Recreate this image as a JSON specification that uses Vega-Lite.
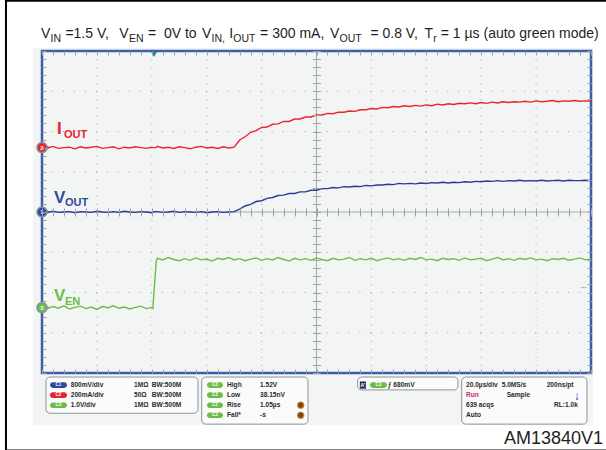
{
  "$schema": "https://vega.github.io/schema/vega-lite/v6.json",
  "width": 549,
  "height": 322,
  "autosize": {"type": "none"},
  "padding": {"left": 42, "top": 51, "right": 15, "bottom": 77},
  "background": "white",
  "config": {"view": {"stroke": null}, "text": {"font": "Liberation Sans"}},
  "resolve": {"axis": {"x": "independent", "y": "independent"}},
  "datasets": {
    "tr": [
      {"t":0,"i":1.62,"v":0.01,"e":-2.36},{"t":0.1,"i":1.59,"v":-0.01,"e":-2.40},{"t":0.2,"i":1.63,"v":0.02,"e":-2.35},
      {"t":0.3,"i":1.58,"v":-0.01,"e":-2.39},{"t":0.4,"i":1.60,"v":0,"e":-2.33},{"t":0.5,"i":1.61,"v":0.01,"e":-2.41},
      {"t":0.6,"i":1.57,"v":-0.02,"e":-2.37},{"t":0.7,"i":1.62,"v":0.01,"e":-2.34},{"t":0.8,"i":1.59,"v":0,"e":-2.40},
      {"t":0.9,"i":1.61,"v":-0.01,"e":-2.36},{"t":1.0,"i":1.63,"v":0.02,"e":-2.42},{"t":1.1,"i":1.58,"v":0,"e":-2.35},
      {"t":1.2,"i":1.60,"v":-0.01,"e":-2.38},{"t":1.3,"i":1.62,"v":0.01,"e":-2.33},{"t":1.4,"i":1.57,"v":-0.01,"e":-2.39},
      {"t":1.5,"i":1.61,"v":0.02,"e":-2.36},{"t":1.6,"i":1.59,"v":0,"e":-2.41},{"t":1.7,"i":1.62,"v":-0.01,"e":-2.37},
      {"t":1.8,"i":1.60,"v":0.01,"e":-2.34},{"t":1.9,"i":1.58,"v":0,"e":-2.40},{"t":2.0,"i":1.61,"v":-0.02,"e":-2.37},
      {"t":2.02,"i":1.60,"v":0,"e":-2.39},{"t":2.08,"i":1.60,"v":0.01,"e":-1.22},
      {"t":2.1,"i":1.63,"v":0.01,"e":-1.15},{"t":2.2,"i":1.59,"v":-0.01,"e":-1.19},{"t":2.3,"i":1.61,"v":0,"e":-1.13},
      {"t":2.4,"i":1.58,"v":0.02,"e":-1.18},{"t":2.5,"i":1.62,"v":-0.01,"e":-1.21},{"t":2.6,"i":1.60,"v":0.01,"e":-1.16},
      {"t":2.7,"i":1.57,"v":0,"e":-1.20},{"t":2.8,"i":1.61,"v":-0.01,"e":-1.14},{"t":2.9,"i":1.63,"v":0.01,"e":-1.19},
      {"t":3.0,"i":1.59,"v":-0.02,"e":-1.17},{"t":3.1,"i":1.61,"v":0,"e":-1.22},{"t":3.2,"i":1.58,"v":0.01,"e":-1.15},
      {"t":3.3,"i":1.62,"v":-0.01,"e":-1.18},{"t":3.4,"i":1.59,"v":0,"e":-1.13},{"t":3.5,"i":1.61,"v":0.01,"e":-1.19},
      {"t":3.6,"i":1.79,"v":0.07,"e":-1.16},{"t":3.7,"i":1.87,"v":0.15,"e":-1.21},{"t":3.8,"i":1.98,"v":0.19,"e":-1.17},
      {"t":3.9,"i":2.02,"v":0.26,"e":-1.14},{"t":4.0,"i":2.10,"v":0.28,"e":-1.20},{"t":4.1,"i":2.11,"v":0.34,"e":-1.16},
      {"t":4.2,"i":2.18,"v":0.36,"e":-1.19},{"t":4.3,"i":2.19,"v":0.41,"e":-1.13},{"t":4.4,"i":2.25,"v":0.42,"e":-1.18},
      {"t":4.5,"i":2.25,"v":0.46,"e":-1.22},{"t":4.6,"i":2.31,"v":0.46,"e":-1.15},{"t":4.7,"i":2.31,"v":0.50,"e":-1.19},
      {"t":4.8,"i":2.36,"v":0.50,"e":-1.16},{"t":4.9,"i":2.36,"v":0.54,"e":-1.20},{"t":5.0,"i":2.41,"v":0.54,"e":-1.14},
      {"t":5.1,"i":2.41,"v":0.58,"e":-1.18},{"t":5.2,"i":2.45,"v":0.58,"e":-1.21},{"t":5.3,"i":2.44,"v":0.61,"e":-1.15},
      {"t":5.4,"i":2.48,"v":0.60,"e":-1.19},{"t":5.5,"i":2.48,"v":0.63,"e":-1.17},{"t":5.6,"i":2.51,"v":0.62,"e":-1.13},
      {"t":5.7,"i":2.50,"v":0.64,"e":-1.20},{"t":5.8,"i":2.54,"v":0.63,"e":-1.16},{"t":5.9,"i":2.54,"v":0.66,"e":-1.19},
      {"t":6.0,"i":2.57,"v":0.65,"e":-1.15},{"t":6.1,"i":2.56,"v":0.67,"e":-1.21},{"t":6.2,"i":2.60,"v":0.67,"e":-1.17},
      {"t":6.3,"i":2.59,"v":0.69,"e":-1.14},{"t":6.4,"i":2.62,"v":0.68,"e":-1.19},{"t":6.5,"i":2.61,"v":0.71,"e":-1.16},
      {"t":6.6,"i":2.64,"v":0.70,"e":-1.20},{"t":6.7,"i":2.62,"v":0.71,"e":-1.15},{"t":6.8,"i":2.65,"v":0.70,"e":-1.18},
      {"t":6.9,"i":2.63,"v":0.72,"e":-1.13},{"t":7.0,"i":2.66,"v":0.71,"e":-1.19},{"t":7.1,"i":2.64,"v":0.73,"e":-1.17},
      {"t":7.2,"i":2.68,"v":0.72,"e":-1.21},{"t":7.3,"i":2.66,"v":0.74,"e":-1.15},{"t":7.4,"i":2.69,"v":0.72,"e":-1.18},
      {"t":7.5,"i":2.67,"v":0.74,"e":-1.16},{"t":7.6,"i":2.70,"v":0.73,"e":-1.20},{"t":7.7,"i":2.69,"v":0.75,"e":-1.14},
      {"t":7.8,"i":2.71,"v":0.74,"e":-1.19},{"t":7.9,"i":2.69,"v":0.76,"e":-1.17},{"t":8.0,"i":2.72,"v":0.75,"e":-1.15},
      {"t":8.1,"i":2.70,"v":0.77,"e":-1.21},{"t":8.2,"i":2.73,"v":0.76,"e":-1.17},{"t":8.3,"i":2.71,"v":0.78,"e":-1.13},
      {"t":8.4,"i":2.74,"v":0.76,"e":-1.19},{"t":8.5,"i":2.72,"v":0.78,"e":-1.16},{"t":8.6,"i":2.74,"v":0.77,"e":-1.20},
      {"t":8.7,"i":2.73,"v":0.79,"e":-1.15},{"t":8.8,"i":2.75,"v":0.77,"e":-1.18},{"t":8.9,"i":2.73,"v":0.78,"e":-1.14},
      {"t":9.0,"i":2.76,"v":0.77,"e":-1.19},{"t":9.1,"i":2.74,"v":0.79,"e":-1.17},{"t":9.2,"i":2.75,"v":0.77,"e":-1.21},
      {"t":9.3,"i":2.77,"v":0.78,"e":-1.16},{"t":9.4,"i":2.74,"v":0.79,"e":-1.18},{"t":9.5,"i":2.76,"v":0.77,"e":-1.15},
      {"t":9.6,"i":2.75,"v":0.79,"e":-1.20},{"t":9.7,"i":2.77,"v":0.78,"e":-1.17},{"t":9.8,"i":2.75,"v":0.78,"e":-1.14},
      {"t":9.9,"i":2.76,"v":0.79,"e":-1.19},{"t":10.0,"i":2.75,"v":0.78,"e":-1.17}
    ]
  },
  "layer": [
    {
      "data": {"values": [{"u": -0.164, "u2": 10.036, "d": 4.075, "d2": -5.3}]},
      "mark": {"type": "rect", "fill": "#f3f5f5"},
      "encoding": {
        "x": {"field": "u", "type": "quantitative", "scale": {"domain": [0, 10], "nice": false, "zero": false}, "axis": null},
        "x2": {"field": "u2"},
        "y": {"field": "d", "type": "quantitative", "scale": {"domain": [-4, 4], "nice": false, "zero": false}, "axis": null},
        "y2": {"field": "d2"}
      }
    },
    {
      "data": {"values": [{"g":1},{"g":2},{"g":3},{"g":4},{"g":6},{"g":7},{"g":8},{"g":9}]},
      "mark": {"type": "rule", "stroke": "#9ea4a6", "strokeWidth": 1, "strokeDash": [1, 7.05]},
      "encoding": {
        "x": {"field": "g", "type": "quantitative", "axis": {"orient": "bottom", "offset": -4, "tickSize": 4, "tickColor": "#9ea4a6", "domain": false, "labels": false, "grid": false, "title": null, "zindex": 1,
          "values": [0,0.2,0.4,0.6,0.8,1,1.2,1.4,1.6,1.8,2,2.2,2.4,2.6,2.8,3,3.2,3.4,3.6,3.8,4,4.2,4.4,4.6,4.8,5,5.2,5.4,5.6,5.8,6,6.2,6.4,6.6,6.8,7,7.2,7.4,7.6,7.8,8,8.2,8.4,8.6,8.8,9,9.2,9.4,9.6,9.8,10]}}
      }
    },
    {
      "data": {"values": [{"g":-3},{"g":-2},{"g":-1},{"g":1},{"g":2},{"g":3}]},
      "mark": {"type": "rule", "stroke": "#9ea4a6", "strokeWidth": 1, "strokeDash": [1, 9.98]},
      "encoding": {
        "y": {"field": "g", "type": "quantitative", "axis": {"orient": "left", "offset": -4, "tickSize": 4, "tickColor": "#9ea4a6", "domain": false, "labels": false, "grid": false, "title": null, "zindex": 1,
          "values": [-4,-3.8,-3.6,-3.4,-3.2,-3,-2.8,-2.6,-2.4,-2.2,-2,-1.8,-1.6,-1.4,-1.2,-1,-0.8,-0.6,-0.4,-0.2,0,0.2,0.4,0.6,0.8,1,1.2,1.4,1.6,1.8,2,2.2,2.4,2.6,2.8,3,3.2,3.4,3.6,3.8,4]}}
      }
    },
    {
      "data": {"values": [{"g": 5}]},
      "mark": {"type": "rule", "stroke": "#a4aaac", "strokeWidth": 1},
      "encoding": {
        "x": {"field": "g", "type": "quantitative", "axis": {"orient": "top", "offset": -4, "tickSize": 4, "tickColor": "#9ea4a6", "domain": false, "labels": false, "grid": false, "title": null, "zindex": 1,
          "values": [0,0.2,0.4,0.6,0.8,1,1.2,1.4,1.6,1.8,2,2.2,2.4,2.6,2.8,3,3.2,3.4,3.6,3.8,4,4.2,4.4,4.6,4.8,5,5.2,5.4,5.6,5.8,6,6.2,6.4,6.6,6.8,7,7.2,7.4,7.6,7.8,8,8.2,8.4,8.6,8.8,9,9.2,9.4,9.6,9.8,10]}}
      }
    },
    {
      "data": {"values": [{"g": 0}]},
      "mark": {"type": "rule", "stroke": "#a4aaac", "strokeWidth": 1},
      "encoding": {
        "y": {"field": "g", "type": "quantitative", "axis": {"orient": "right", "offset": -4, "tickSize": 4, "tickColor": "#9ea4a6", "domain": false, "labels": false, "grid": false, "title": null, "zindex": 1,
          "values": [-4,-3.8,-3.6,-3.4,-3.2,-3,-2.8,-2.6,-2.4,-2.2,-2,-1.8,-1.6,-1.4,-1.2,-1,-0.8,-0.6,-0.4,-0.2,0,0.2,0.4,0.6,0.8,1,1.2,1.4,1.6,1.8,2,2.2,2.4,2.6,2.8,3,3.2,3.4,3.6,3.8,4]}}
      }
    },
    {
      "data": {"values": [{"u": 0, "u2": 10, "d": -4, "d2": 4}]},
      "mark": {"type": "rect", "fillOpacity": 0, "stroke": "#3d5daa", "strokeWidth": 2.5},
      "encoding": {
        "x": {"field": "u", "type": "quantitative", "axis": null}, "x2": {"field": "u2"},
        "y": {"field": "d", "type": "quantitative", "axis": null}, "y2": {"field": "d2"}
      }
    },
    {
      "data": {"name": "tr"},
      "mark": {"type": "line", "color": "#e8262b", "strokeWidth": 1.4},
      "encoding": {
        "x": {"field": "t", "type": "quantitative", "axis": {"orient": "bottom", "offset": -165, "tickSize": 8, "tickColor": "#9ea4a6", "domain": false, "labels": false, "grid": false, "title": null, "zindex": 1,
          "values": [0,0.2,0.4,0.6,0.8,1,1.2,1.4,1.6,1.8,2,2.2,2.4,2.6,2.8,3,3.2,3.4,3.6,3.8,4,4.2,4.4,4.6,4.8,5,5.2,5.4,5.6,5.8,6,6.2,6.4,6.6,6.8,7,7.2,7.4,7.6,7.8,8,8.2,8.4,8.6,8.8,9,9.2,9.4,9.6,9.8,10]}},
        "y": {"field": "i", "type": "quantitative", "axis": {"orient": "left", "offset": -278.5, "tickSize": 8, "tickColor": "#9ea4a6", "domain": false, "labels": false, "grid": false, "title": null, "zindex": 1,
          "values": [-4,-3.8,-3.6,-3.4,-3.2,-3,-2.8,-2.6,-2.4,-2.2,-2,-1.8,-1.6,-1.4,-1.2,-1,-0.8,-0.6,-0.4,-0.2,0,0.2,0.4,0.6,0.8,1,1.2,1.4,1.6,1.8,2,2.2,2.4,2.6,2.8,3,3.2,3.4,3.6,3.8,4]}}
      }
    },
    {
      "data": {"name": "tr"},
      "mark": {"type": "line", "color": "#2e3b93", "strokeWidth": 1.4},
      "encoding": {
        "x": {"field": "t", "type": "quantitative", "axis": null},
        "y": {"field": "v", "type": "quantitative", "axis": null}
      }
    },
    {
      "data": {"name": "tr"},
      "mark": {"type": "line", "color": "#6cbd45", "strokeWidth": 1.4},
      "encoding": {
        "x": {"field": "t", "type": "quantitative", "axis": null},
        "y": {"field": "e", "type": "quantitative", "axis": null}
      }
    },
    {
      "data": {"values": [{"u": 0.11, "d": 1.6, "ch": "IOUT"}, {"u": 0.11, "d": 0, "ch": "VOUT"}, {"u": 0.11, "d": -2.375, "ch": "VEN"}]},
      "mark": {"type": "point", "shape": "triangle-right", "filled": true, "size": 22, "opacity": 1},
      "encoding": {
        "x": {"field": "u", "type": "quantitative", "axis": null},
        "y": {"field": "d", "type": "quantitative", "axis": null},
        "color": {"field": "ch", "type": "nominal", "scale": {"domain": ["IOUT", "VOUT", "VEN"], "range": ["#e3242b", "#2f4a9c", "#6bbd45"]}, "legend": null}
      }
    },
    {
      "data": {"values": [{"u": 0, "d": 1.6, "ch": "IOUT"}, {"u": 0, "d": 0, "ch": "VOUT"}, {"u": 0, "d": -2.375, "ch": "VEN"}]},
      "mark": {"type": "point", "shape": "circle", "filled": true, "size": 100, "opacity": 1, "stroke": "#8e9294", "strokeWidth": 1.5},
      "encoding": {
        "x": {"field": "u", "type": "quantitative", "axis": null},
        "y": {"field": "d", "type": "quantitative", "axis": null},
        "color": {"field": "ch", "type": "nominal", "scale": {"domain": ["IOUT", "VOUT", "VEN"], "range": ["#e3242b", "#2f4a9c", "#6bbd45"]}, "legend": null}
      }
    },
    {
      "data": {"values": [{"u": 0, "d": 1.6, "n": "2"}, {"u": 0, "d": 0, "n": "1"}, {"u": 0, "d": -2.375, "n": "3"}]},
      "mark": {"type": "text", "fontSize": 6, "fontWeight": "bold", "color": "white", "align": "center", "baseline": "middle"},
      "encoding": {
        "x": {"field": "u", "type": "quantitative", "axis": null},
        "y": {"field": "d", "type": "quantitative", "axis": null},
        "text": {"field": "n"}
      }
    },
    {
      "data": {"values": [{"u": 0.273, "d": 1.95, "s": "I", "ch": "IOUT"}, {"u": 0.219, "d": 0.225, "s": "V", "ch": "VOUT"}, {"u": 0.219, "d": -2.2, "s": "V", "ch": "VEN"}]},
      "mark": {"type": "text", "fontSize": 17, "fontWeight": "bold", "align": "left", "baseline": "alphabetic"},
      "encoding": {
        "x": {"field": "u", "type": "quantitative", "axis": null},
        "y": {"field": "d", "type": "quantitative", "axis": null},
        "text": {"field": "s"},
        "color": {"field": "ch", "type": "nominal", "scale": {"domain": ["IOUT", "VOUT", "VEN"], "range": ["#e3242b", "#2f4a9c", "#6bbd45"]}, "legend": null}
      }
    },
    {
      "data": {"values": [{"u": 0.401, "d": 1.85, "s": "OUT", "ch": "IOUT"}, {"u": 0.419, "d": 0.15, "s": "OUT", "ch": "VOUT"}, {"u": 0.419, "d": -2.3, "s": "EN", "ch": "VEN"}]},
      "mark": {"type": "text", "fontSize": 11, "fontWeight": "bold", "align": "left", "baseline": "alphabetic"},
      "encoding": {
        "x": {"field": "u", "type": "quantitative", "axis": null},
        "y": {"field": "d", "type": "quantitative", "axis": null},
        "text": {"field": "s"},
        "color": {"field": "ch", "type": "nominal", "scale": {"domain": ["IOUT", "VOUT", "VEN"], "range": ["#e3242b", "#2f4a9c", "#6bbd45"]}, "legend": null}
      }
    },
    {
      "data": {"values": [
        {"u": -0.018, "d": 4.325, "s": "V"},
        {"u": 0.426, "d": 4.325, "s": "=1.5 V,"},
        {"u": 1.409, "d": 4.325, "s": "V"},
        {"u": 1.93, "d": 4.325, "s": "=\u00a0 0V to"},
        {"u": 2.913, "d": 4.325, "s": "V"},
        {"u": 3.412, "d": 4.325, "s": "I"},
        {"u": 3.972, "d": 4.325, "s": "= 300 mA,"},
        {"u": 5.246, "d": 4.325, "s": "V"},
        {"u": 5.982, "d": 4.325, "s": "= 0.8 V,"},
        {"u": 6.965, "d": 4.325, "s": "T"},
        {"u": 7.264, "d": 4.325, "s": "= 1 µs (auto green mode)"}
      ]},
      "mark": {"type": "text", "fontSize": 14, "color": "#231f20", "align": "left", "baseline": "alphabetic"},
      "encoding": {
        "x": {"field": "u", "type": "quantitative", "axis": null},
        "y": {"field": "d", "type": "quantitative", "axis": null},
        "text": {"field": "s"}
      }
    },
    {
      "data": {"values": [
        {"u": 0.157, "d": 4.225, "s": "IN"},
        {"u": 1.584, "d": 4.225, "s": "EN"},
        {"u": 3.087, "d": 4.225, "s": "IN,"},
        {"u": 3.485, "d": 4.225, "s": "OUT"},
        {"u": 5.421, "d": 4.225, "s": "OUT"},
        {"u": 7.125, "d": 4.225, "s": "r"}
      ]},
      "mark": {"type": "text", "fontSize": 10.5, "color": "#231f20", "align": "left", "baseline": "alphabetic"},
      "encoding": {
        "x": {"field": "u", "type": "quantitative", "axis": null},
        "y": {"field": "d", "type": "quantitative", "axis": null},
        "text": {"field": "s"}
      }
    },
    {
      "data": {"values": [
        {"u": 0.073, "u2": 2.842, "d": -4.1, "d2": -5.0},
        {"u": 2.909, "u2": 4.845, "d": -4.1, "d2": -5.27},
        {"u": 5.75, "u2": 7.577, "d": -4.1, "d2": -4.42},
        {"u": 7.645, "u2": 9.927, "d": -4.1, "d2": -5.27}
      ]},
      "mark": {"type": "rect", "fill": "#fbfbfb", "stroke": "#8c9294", "strokeWidth": 1, "cornerRadius": 4},
      "encoding": {
        "x": {"field": "u", "type": "quantitative", "axis": null}, "x2": {"field": "u2"},
        "y": {"field": "d", "type": "quantitative", "axis": null}, "y2": {"field": "d2"}
      }
    },
    {
      "data": {"values": [
        {"u": 0.146, "u2": 0.455, "d": -4.23, "d2": -4.37, "ch": "VOUT"},
        {"u": 0.146, "u2": 0.455, "d": -4.48, "d2": -4.62, "ch": "IOUT"},
        {"u": 0.146, "u2": 0.455, "d": -4.73, "d2": -4.87, "ch": "VEN"},
        {"u": 3.005, "u2": 3.297, "d": -4.23, "d2": -4.37, "ch": "VEN"},
        {"u": 3.005, "u2": 3.297, "d": -4.48, "d2": -4.62, "ch": "VEN"},
        {"u": 3.005, "u2": 3.297, "d": -4.73, "d2": -4.87, "ch": "VEN"},
        {"u": 3.005, "u2": 3.297, "d": -4.98, "d2": -5.12, "ch": "VEN"},
        {"u": 5.974, "u2": 6.284, "d": -4.23, "d2": -4.37, "ch": "VEN"}
      ]},
      "mark": {"type": "rect", "cornerRadius": 3},
      "encoding": {
        "x": {"field": "u", "type": "quantitative", "axis": null}, "x2": {"field": "u2"},
        "y": {"field": "d", "type": "quantitative", "axis": null}, "y2": {"field": "d2"},
        "color": {"field": "ch", "type": "nominal", "scale": {"domain": ["IOUT", "VOUT", "VEN"], "range": ["#e3242b", "#2f4a9c", "#6bbd45"]}, "legend": null}
      }
    },
    {
      "data": {"values": [
        {"u": 0.30, "d": -4.3, "s": "C1"}, {"u": 0.30, "d": -4.55, "s": "C2"}, {"u": 0.30, "d": -4.8, "s": "C3"},
        {"u": 3.151, "d": -4.3, "s": "C3"}, {"u": 3.151, "d": -4.55, "s": "C3"}, {"u": 3.151, "d": -4.8, "s": "C3"}, {"u": 3.151, "d": -5.05, "s": "C3"},
        {"u": 6.129, "d": -4.3, "s": "C3"}
      ]},
      "mark": {"type": "text", "fontSize": 4.5, "fontWeight": "bold", "color": "white", "align": "center", "baseline": "middle"},
      "encoding": {
        "x": {"field": "u", "type": "quantitative", "axis": null},
        "y": {"field": "d", "type": "quantitative", "axis": null},
        "text": {"field": "s"}
      }
    },
    {
      "data": {"values": [{"u": 5.79, "u2": 5.9, "d": -4.21, "d2": -4.39}]},
      "mark": {"type": "rect", "fill": "#1c2e5a"},
      "encoding": {
        "x": {"field": "u", "type": "quantitative", "axis": null}, "x2": {"field": "u2"},
        "y": {"field": "d", "type": "quantitative", "axis": null}, "y2": {"field": "d2"}
      }
    },
    {
      "data": {"values": [{"u": 5.845, "d": -4.3, "s": "A'"}]},
      "mark": {"type": "text", "fontSize": 5, "fontWeight": "bold", "color": "white", "align": "center", "baseline": "middle"},
      "encoding": {
        "x": {"field": "u", "type": "quantitative", "axis": null},
        "y": {"field": "d", "type": "quantitative", "axis": null},
        "text": {"field": "s"}
      }
    },
    {
      "data": {"values": [{"u": 4.712, "d": -4.8}, {"u": 4.712, "d": -5.05}]},
      "mark": {"type": "point", "shape": "circle", "filled": true, "size": 45, "opacity": 1, "fill": "#7a4a16", "stroke": "#d9a050", "strokeWidth": 1},
      "encoding": {
        "x": {"field": "u", "type": "quantitative", "axis": null},
        "y": {"field": "d", "type": "quantitative", "axis": null}
      }
    },
    {
      "data": {"values": [
        {"u": 0.523, "d": -4.3, "s": "800mV/div"}, {"u": 1.676, "d": -4.3, "s": "1MΩ"}, {"u": 2.0, "d": -4.3, "s": "BW:500M"},
        {"u": 0.523, "d": -4.55, "s": "200mA/div"}, {"u": 1.676, "d": -4.55, "s": "50Ω"}, {"u": 2.0, "d": -4.55, "s": "BW:500M"},
        {"u": 0.523, "d": -4.8, "s": "1.0V/div"}, {"u": 1.676, "d": -4.8, "s": "1MΩ"}, {"u": 2.0, "d": -4.8, "s": "BW:500M"},
        {"u": 3.37, "d": -4.3, "s": "High"}, {"u": 3.971, "d": -4.3, "s": "1.52V"},
        {"u": 3.37, "d": -4.55, "s": "Low"}, {"u": 3.971, "d": -4.55, "s": "38.15nV"},
        {"u": 3.37, "d": -4.8, "s": "Rise"}, {"u": 3.971, "d": -4.8, "s": "1.05µs"},
        {"u": 3.37, "d": -5.05, "s": "Fall*"}, {"u": 3.971, "d": -5.05, "s": "-s"},
        {"u": 6.30, "d": -4.3, "s": "ƒ"}, {"u": 6.40, "d": -4.3, "s": "680mV"},
        {"u": 7.723, "d": -4.3, "s": "20.0µs/div"}, {"u": 8.373, "d": -4.3, "s": "5.0MS/s"}, {"u": 9.193, "d": -4.3, "s": "200ns/pt"},
        {"u": 8.464, "d": -4.55, "s": "Sample"},
        {"u": 7.723, "d": -4.8, "s": "639 acqs"}, {"u": 9.326, "d": -4.8, "s": "RL:1.0k"},
        {"u": 7.723, "d": -5.05, "s": "Auto"}
      ]},
      "mark": {"type": "text", "fontSize": 6.6, "fontWeight": "bold", "color": "#2a2a2a", "align": "left", "baseline": "middle"},
      "encoding": {
        "x": {"field": "u", "type": "quantitative", "axis": null},
        "y": {"field": "d", "type": "quantitative", "axis": null},
        "text": {"field": "s"}
      }
    },
    {
      "data": {"values": [{"u": 7.723, "d": -4.55, "s": "Run"}]},
      "mark": {"type": "text", "fontSize": 6.6, "fontWeight": "bold", "color": "#c0307a", "align": "left", "baseline": "middle"},
      "encoding": {
        "x": {"field": "u", "type": "quantitative", "axis": null},
        "y": {"field": "d", "type": "quantitative", "axis": null},
        "text": {"field": "s"}
      }
    },
    {
      "data": {"values": [{"u": 9.739, "d": -4.57, "s": "↓"}]},
      "mark": {"type": "text", "fontSize": 12, "fontWeight": "bold", "color": "#2040a0", "align": "center", "baseline": "middle"},
      "encoding": {
        "x": {"field": "u", "type": "quantitative", "axis": null},
        "y": {"field": "d", "type": "quantitative", "axis": null},
        "text": {"field": "s"}
      }
    },
    {
      "data": {"values": [{"u": 2.04, "d": 3.92}]},
      "mark": {"type": "point", "shape": "triangle-down", "filled": true, "size": 40, "opacity": 1, "color": "#1a8a9c"},
      "encoding": {
        "x": {"field": "u", "type": "quantitative", "axis": null},
        "y": {"field": "d", "type": "quantitative", "axis": null}
      }
    },
    {
      "data": {"values": [{"u": 9.87, "d": -1.85, "s": "←"}]},
      "mark": {"type": "text", "fontSize": 9, "color": "#6bbd45", "align": "center", "baseline": "middle"},
      "encoding": {
        "x": {"field": "u", "type": "quantitative", "axis": null},
        "y": {"field": "d", "type": "quantitative", "axis": null},
        "text": {"field": "s"}
      }
    },
    {
      "data": {"values": [
        {"u": -0.656, "u2": -0.656, "d": 5.3, "d2": -5.93},
        {"u": -0.656, "u2": 10.3, "d": 5.25, "d2": 5.25},
        {"u": -0.656, "u2": 10.3, "d": -5.925, "d2": -5.925}
      ]},
      "mark": {"type": "rule", "color": "#000000", "strokeWidth": 2},
      "encoding": {
        "x": {"field": "u", "type": "quantitative", "axis": null}, "x2": {"field": "u2"},
        "y": {"field": "d", "type": "quantitative", "axis": null}, "y2": {"field": "d2"}
      }
    },
    {
      "data": {"values": [{"u": 10.219, "d": -5.775, "s": "AM13840V1"}]},
      "mark": {"type": "text", "fontSize": 18, "color": "#231f20", "align": "right", "baseline": "alphabetic"},
      "encoding": {
        "x": {"field": "u", "type": "quantitative", "axis": null},
        "y": {"field": "d", "type": "quantitative", "axis": null},
        "text": {"field": "s"}
      }
    }
  ]
}
